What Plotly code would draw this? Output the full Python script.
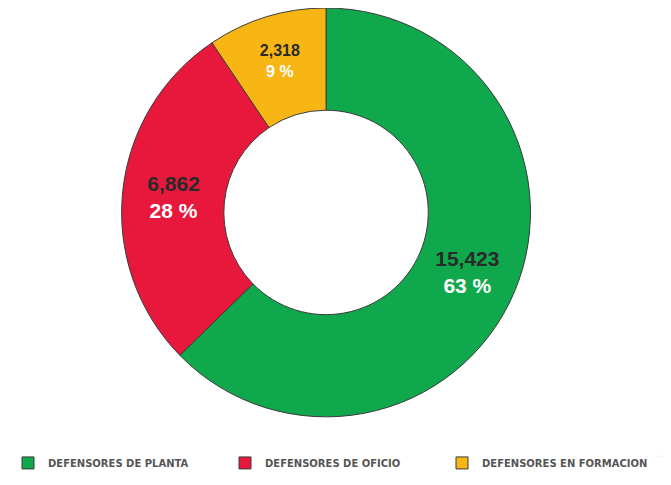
import plotly.graph_objects as go

labels = ['DEFENSORES DE PLANTA', 'DEFENSORES DE OFICIO', 'DEFENSORES EN FORMACION']
values = [15423, 6862, 2318]
percents = ['63 %', '28 %', '9 %']
colors = ['#10A84C', '#E8183C', '#F8B614']
label_sizes = [21, 21, 16]

texts = ["<b><span style='color:#2a2a2a'>{:,}</span><br><span style='color:#ffffff'>{}</span></b>".format(v, p)
         for v, p in zip(values, percents)]

fig = go.Figure(go.Pie(
    labels=['<b>' + l + '</b>' for l in labels], values=values, text=texts, textinfo='text',
    hole=0.5, sort=False, direction='clockwise', rotation=0,
    marker=dict(colors=colors, line=dict(color='#3a3a3a', width=1)),
    textposition='inside', insidetextorientation='horizontal',
    textfont=dict(family='Arial, Liberation Sans', size=label_sizes),
    domain=dict(x=[0.169, 0.779], y=[0.157, 1.0]),
    hoverinfo='label+value+percent',
))

fig.add_shape(type='line', xref='paper', yref='paper', x0=0.0, x1=1.0, y0=0.076, y1=0.076,
              line=dict(color='#eeeeee', width=1))

fig.update_layout(
    width=671, height=485,
    margin=dict(l=0, r=0, t=0, b=0),
    paper_bgcolor='white', plot_bgcolor='white',
    legend=dict(orientation='h', x=0, xanchor='left', y=0.062, yanchor='middle',
                font=dict(family='DejaVu Sans', size=10, color='#555555'),
                entrywidth=172, itemwidth=30, traceorder='normal'),
)

fig.write_html("out.html")
